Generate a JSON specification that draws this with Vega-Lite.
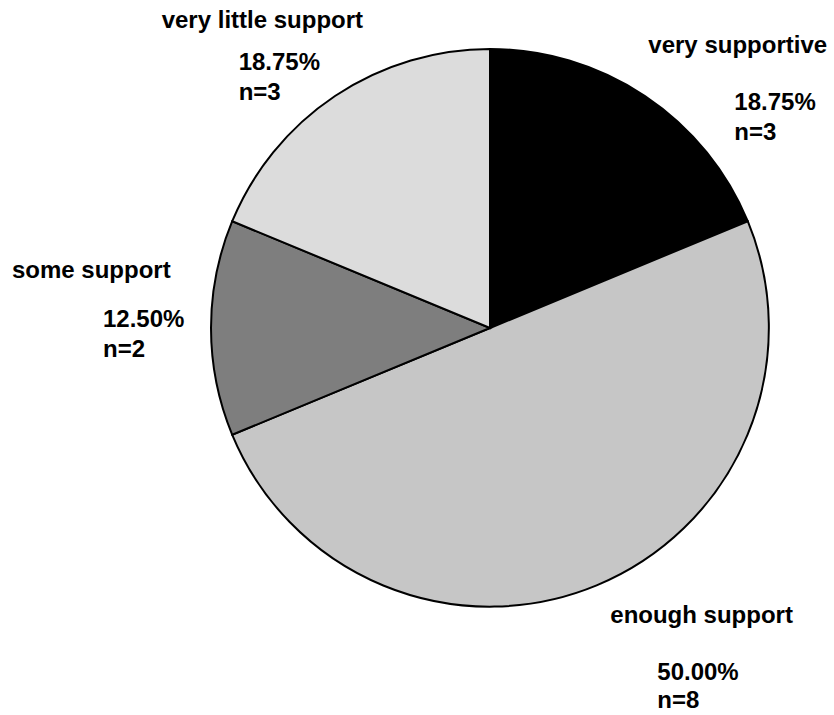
{
  "$schema": "https://vega.github.io/schema/vega-lite/v6.json",
  "width": 688,
  "height": 656,
  "autosize": {"type": "none"},
  "padding": {"left": 146, "top": 0, "right": 0, "bottom": 59},
  "background": "white",
  "config": {"view": {"stroke": null}},
  "data": {
    "values": [
      {"category": "very supportive", "n": 3, "label2": "18.75%\nn=3", "order": 1},
      {"category": "enough support", "n": 8, "label2": "50.00%\nn=8", "order": 2},
      {"category": "some support", "n": 2, "label2": "12.50%\nn=2", "order": 3},
      {"category": "very little support", "n": 3, "label2": "18.75%\nn=3", "order": 4}
    ]
  },
  "encoding": {
    "theta": {"field": "n", "type": "quantitative", "stack": true},
    "order": {"field": "order", "type": "quantitative"}
  },
  "layer": [
    {
      "mark": {"type": "arc", "outerRadius": 279, "stroke": "black", "strokeWidth": 2},
      "encoding": {
        "color": {
          "field": "category",
          "type": "nominal",
          "scale": {
            "domain": ["very supportive", "enough support", "some support", "very little support"],
            "range": ["#000000", "#c6c6c6", "#7e7e7e", "#dcdcdc"]
          },
          "legend": null
        }
      }
    },
    {
      "mark": {"type": "text", "radius": 330, "align": "left", "baseline": "alphabetic", "dx": -25, "dy": -1, "font": "Liberation Sans", "fontWeight": "bold", "fontSize": 24, "fill": "black"},
      "encoding": {"text": {"condition": {"test": "datum.category === 'very supportive'", "field": "category"}, "value": ""}}
    },
    {
      "mark": {"type": "text", "radius": 330, "align": "left", "baseline": "alphabetic", "dx": 61, "dy": 56, "lineBreak": "\n", "lineHeight": 30, "font": "Liberation Sans", "fontWeight": "bold", "fontSize": 24, "fill": "black"},
      "encoding": {"text": {"condition": {"test": "datum.category === 'very supportive'", "field": "label2"}, "value": ""}}
    },
    {
      "mark": {"type": "text", "radius": 330, "align": "left", "baseline": "alphabetic", "dx": -6, "dy": -10, "font": "Liberation Sans", "fontWeight": "bold", "fontSize": 24, "fill": "black"},
      "encoding": {"text": {"condition": {"test": "datum.category === 'enough support'", "field": "category"}, "value": ""}}
    },
    {
      "mark": {"type": "text", "radius": 330, "align": "left", "baseline": "alphabetic", "dx": 41, "dy": 47, "lineBreak": "\n", "lineHeight": 28, "font": "Liberation Sans", "fontWeight": "bold", "fontSize": 24, "fill": "black"},
      "encoding": {"text": {"condition": {"test": "datum.category === 'enough support'", "field": "label2"}, "value": ""}}
    },
    {
      "mark": {"type": "text", "radius": 330, "align": "left", "baseline": "alphabetic", "dx": -148, "dy": -50, "font": "Liberation Sans", "fontWeight": "bold", "fontSize": 24, "fill": "black"},
      "encoding": {"text": {"condition": {"test": "datum.category === 'some support'", "field": "category"}, "value": ""}}
    },
    {
      "mark": {"type": "text", "radius": 330, "align": "left", "baseline": "alphabetic", "dx": -57, "dy": -1, "lineBreak": "\n", "lineHeight": 30, "font": "Liberation Sans", "fontWeight": "bold", "fontSize": 24, "fill": "black"},
      "encoding": {"text": {"condition": {"test": "datum.category === 'some support'", "field": "label2"}, "value": ""}}
    },
    {
      "mark": {"type": "text", "radius": 330, "align": "left", "baseline": "alphabetic", "dx": -145, "dy": -26, "font": "Liberation Sans", "fontWeight": "bold", "fontSize": 24, "fill": "black"},
      "encoding": {"text": {"condition": {"test": "datum.category === 'very little support'", "field": "category"}, "value": ""}}
    },
    {
      "mark": {"type": "text", "radius": 330, "align": "left", "baseline": "alphabetic", "dx": -68, "dy": 16, "lineBreak": "\n", "lineHeight": 30, "font": "Liberation Sans", "fontWeight": "bold", "fontSize": 24, "fill": "black"},
      "encoding": {"text": {"condition": {"test": "datum.category === 'very little support'", "field": "label2"}, "value": ""}}
    }
  ]
}
